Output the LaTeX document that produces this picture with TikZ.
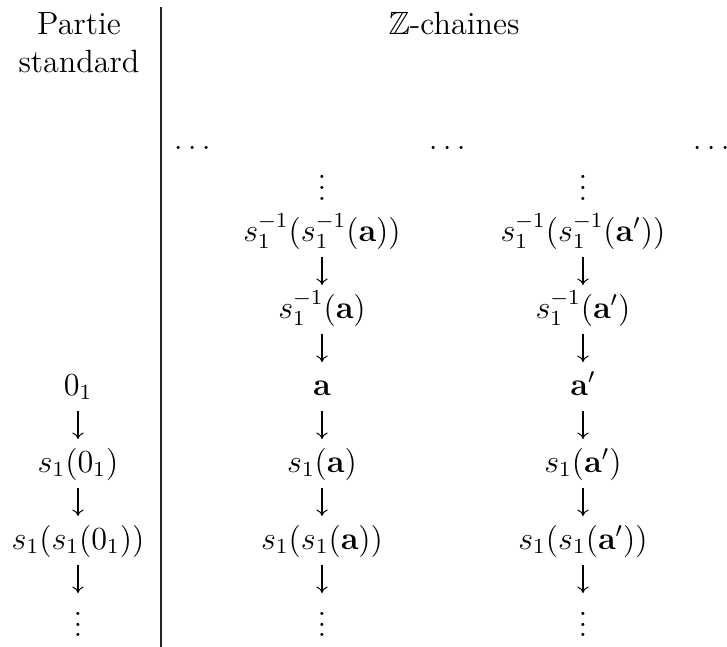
\documentclass[tikz,border=0pt]{standalone}
\usepackage{amsmath,amssymb}
\usepackage{tikz}
\usetikzlibrary{arrows.meta, calc}
\newcommand{\lowdots}{\raisebox{-4pt}{$\vdots$}}

\begin{document}
\begin{tikzpicture}[x=0.373pt, y=-0.373pt, font=\large,
    txt/.style={anchor=base, inner sep=0pt},
    arr/.style={-{Computer Modern Rightarrow[length=2.4pt, width=4.2pt]}, line width=0.38pt}]
    \useasboundingbox (0,0) rectangle (727,647);

    % Header
    \node[txt] (part) at (79,35) {Partie};
    \node[txt] (std) at (79,72) {standard};
    \node[txt] (zch) at (454,35) {$\mathbb{Z}$-chaines};
    \draw[line width=0.4pt, black!85] (161,7) -- (161,647);

    % Dots between the chains
    \node[txt] (gapA) at (195,149) {$\dots$};
    \node[txt] (gapB) at (450,149) {$\dots$};
    \node[txt] (gapC) at (714,149) {$\dots$};

    % Standard part
    \node[txt] (z0) at (78,395) {$0_1$};
    \node[txt] (z1) at (78,472) {$s_1(0_1)$};
    \node[txt] (z2) at (78,549) {$s_1(s_1(0_1))$};
    \node[txt] (zv) at (78,626) {\lowdots};

    % Chain of a
    \node[txt] (aTop) at (322,200) {$\vdots$};
    \node[txt] (am2) at (322,241) {$s_1^{-1}(s_1^{-1}(\mathbf{a}))$};
    \node[txt] (am1) at (322,318) {$s_1^{-1}(\mathbf{a})$};
    \node[txt] (a0) at (322,395) {$\mathbf{a}$};
    \node[txt] (a1) at (322,472) {$s_1(\mathbf{a})$};
    \node[txt] (a2) at (322,549) {$s_1(s_1(\mathbf{a}))$};
    \node[txt] (av) at (322,626) {\lowdots};

    % Chain of a'
    \node[txt] (bTop) at (583,200) {$\vdots$};
    \node[txt] (bm2) at (583,241) {$s_1^{-1}(s_1^{-1}(\mathbf{a}'))$};
    \node[txt] (bm1) at (583,318) {$s_1^{-1}(\mathbf{a}')$};
    \node[txt] (b0) at (583,395) {$\mathbf{a}'$};
    \node[txt] (b1) at (583,472) {$s_1(\mathbf{a}')$};
    \node[txt] (b2) at (583,549) {$s_1(s_1(\mathbf{a}'))$};
    \node[txt] (bv) at (583,626) {\lowdots};

    % Arrows s_1
    \foreach \u/\v in {z0/z1, z1/z2, z2/zv,
                       am2/am1, am1/a0, a0/a1, a1/a2, a2/av,
                       bm2/bm1, bm1/b0, b0/b1, b1/b2, b2/bv}
        \draw[arr] ($(\u.base)+(0,16)$) -- ($(\v.base)+(0,-33)$);
\end{tikzpicture}
\end{document}
